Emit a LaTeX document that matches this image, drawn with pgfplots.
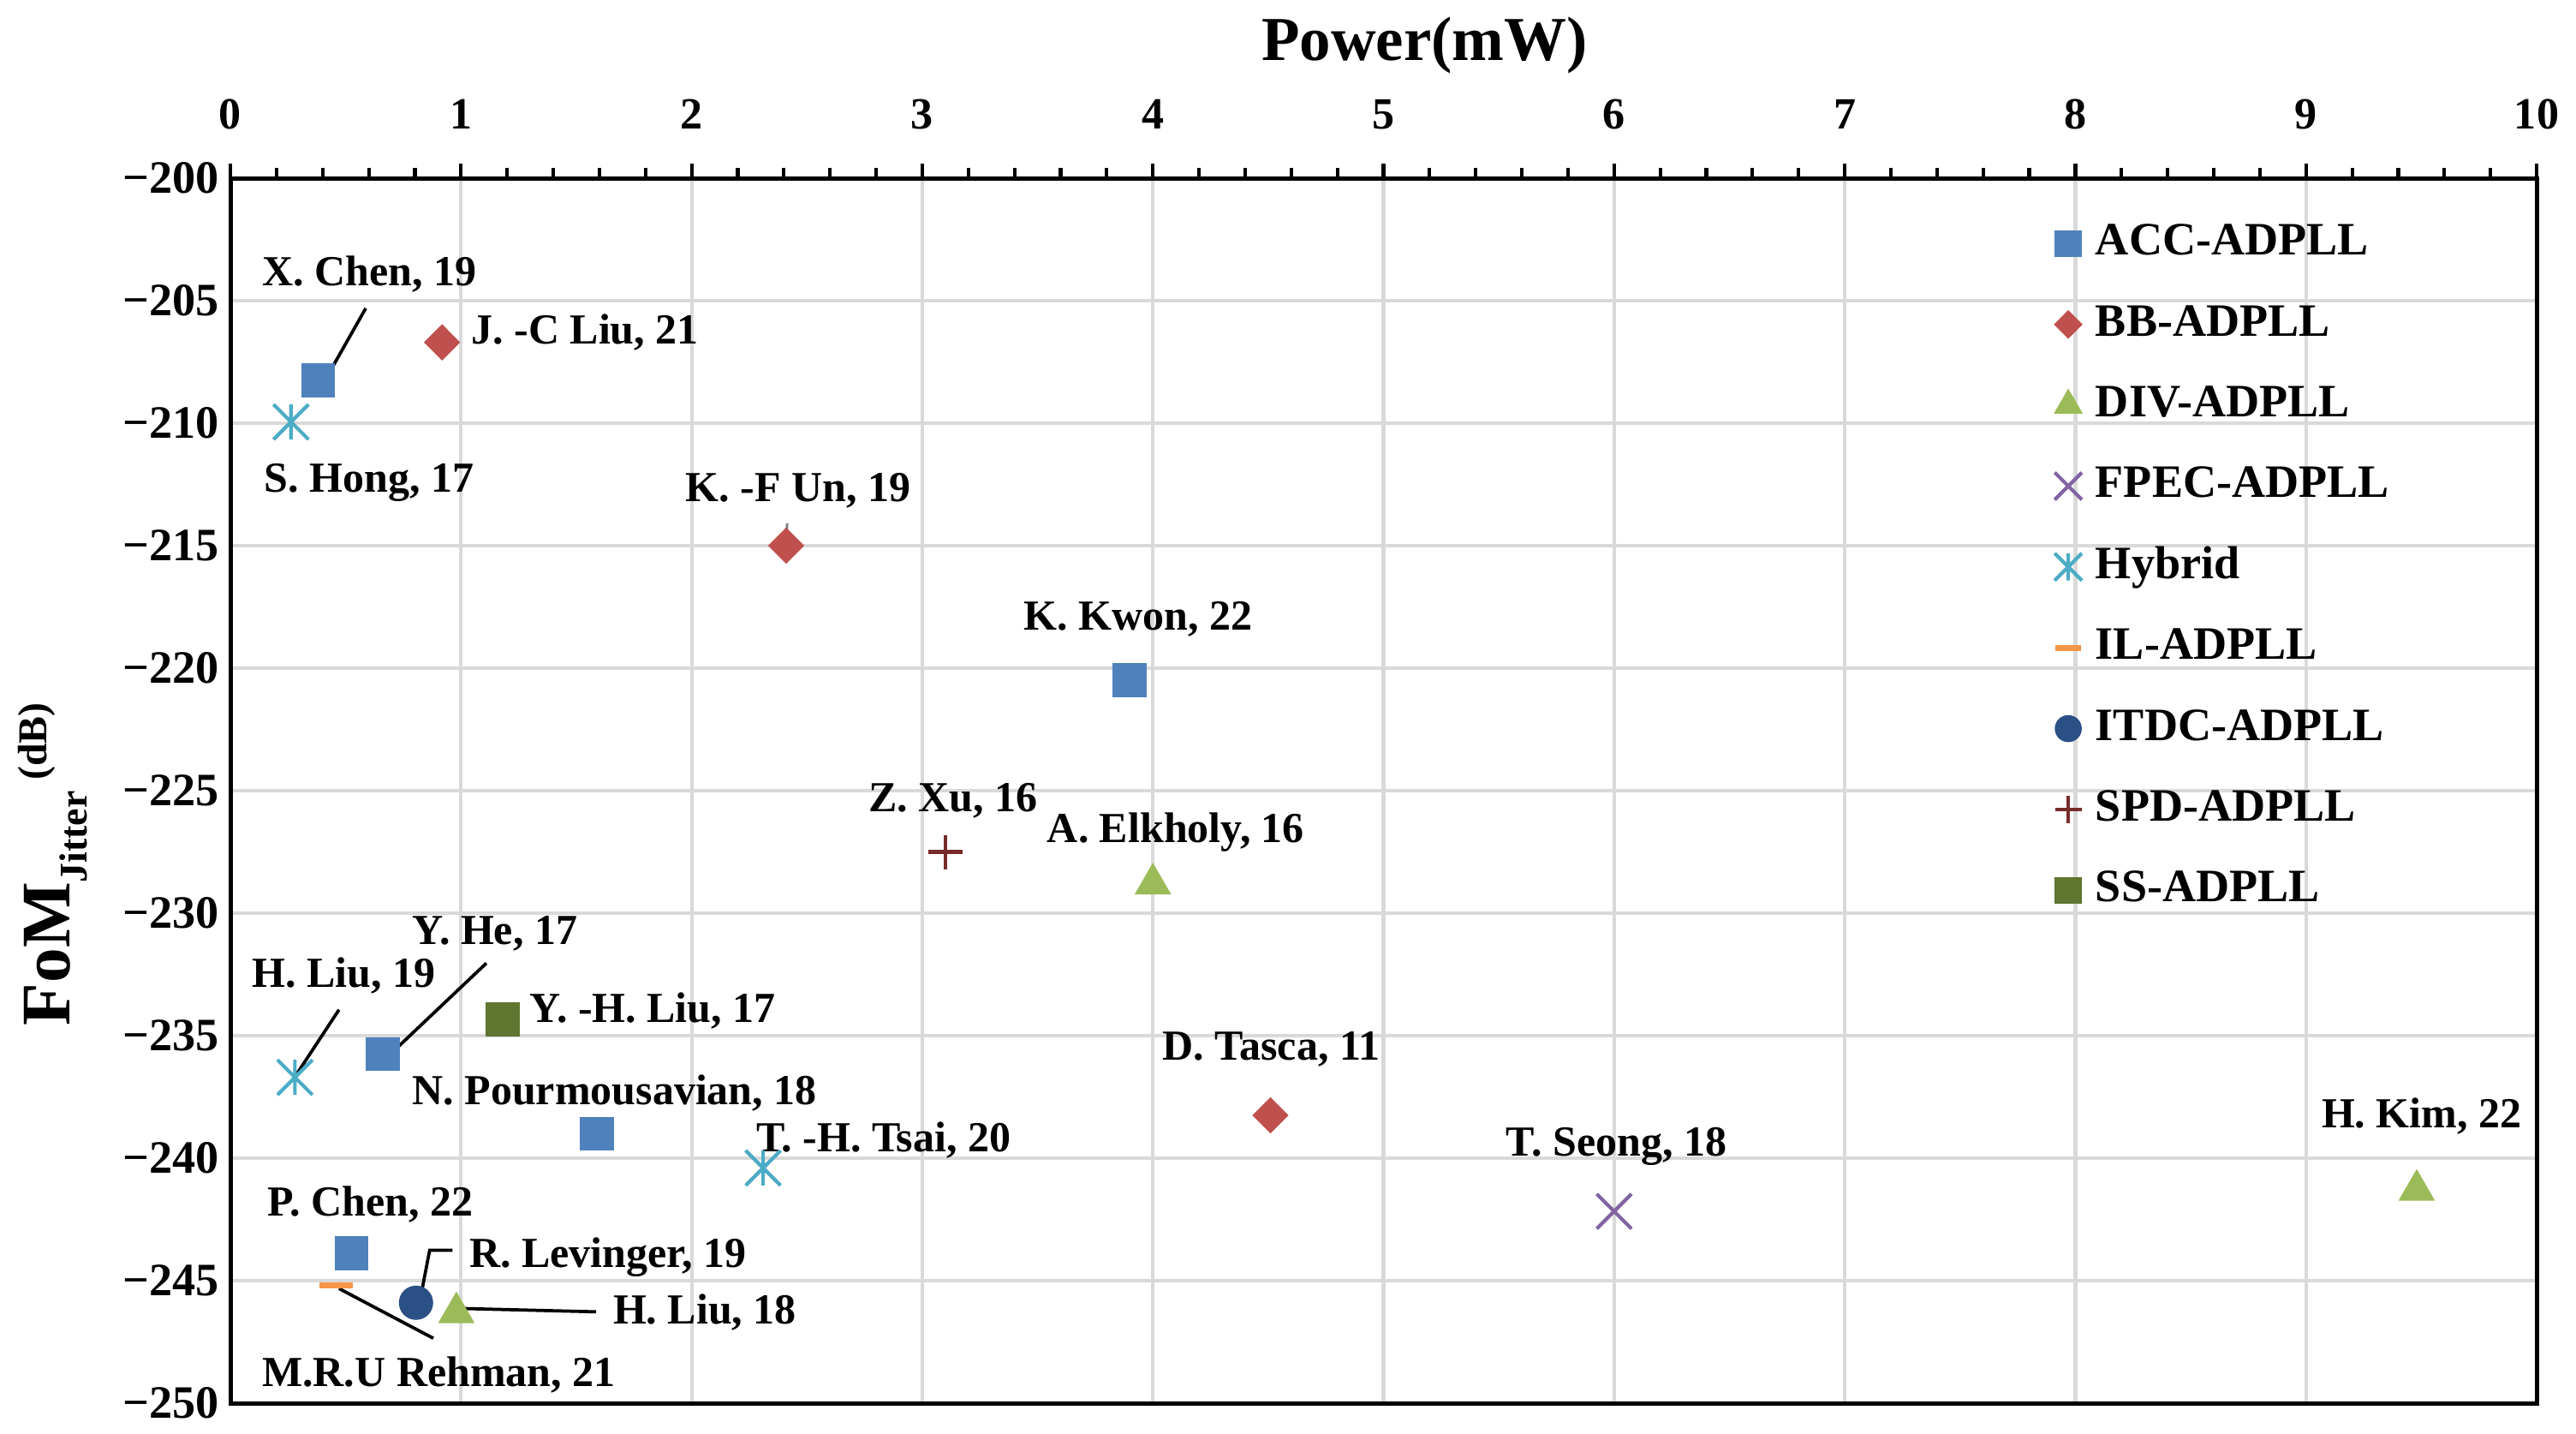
\documentclass[border=0pt]{standalone}
\usepackage{pgfplots}
\pgfplotsset{compat=1.18}
\usepackage{fontspec}
\setmainfont{Liberation Serif}
\definecolor{accblue}{HTML}{4F81BD}
\definecolor{bbred}{HTML}{C0504D}
\definecolor{divgreen}{HTML}{9BBB59}
\definecolor{fpecpurple}{HTML}{8064A2}
\definecolor{hybcyan}{HTML}{4BACC6}
\definecolor{ilorange}{HTML}{F79646}
\definecolor{itdcblue}{HTML}{2B5086}
\definecolor{spdred}{HTML}{772C2A}
\definecolor{ssgreen}{HTML}{5F7530}
\definecolor{gridgray}{HTML}{D9D9D9}
\newcommand{\lab}{\fontsize{12}{14}\selectfont\bfseries}
\pgfdeclareplotmark{xast}{%
  \pgfpathmoveto{\pgfqpoint{0pt}{\pgfplotmarksize}}%
  \pgfpathlineto{\pgfqpoint{0pt}{-\pgfplotmarksize}}%
  \pgfpathmoveto{\pgfqpoint{-\pgfplotmarksize}{-\pgfplotmarksize}}%
  \pgfpathlineto{\pgfqpoint{\pgfplotmarksize}{\pgfplotmarksize}}%
  \pgfpathmoveto{\pgfqpoint{-\pgfplotmarksize}{\pgfplotmarksize}}%
  \pgfpathlineto{\pgfqpoint{\pgfplotmarksize}{-\pgfplotmarksize}}%
  \pgfusepathqstroke}
\begin{document}
\begin{tikzpicture}
\useasboundingbox (-64.56pt,-8.4pt) rectangle (657.34pt,393.12pt);
\begin{axis}[
  at={(0pt,0pt)}, anchor=south west,
  scale only axis, width=646.3pt, height=343.2pt,
  xmin=0, xmax=10, ymin=-250, ymax=-200,
  xtick={0,1,2,3,4,5,6,7,8,9,10},
  xticklabels={0,1,2,3,4,5,6,7,8,9,10},
  minor x tick num=4,
  ytick={-250,-245,-240,-235,-230,-225,-220,-215,-210,-205,-200},
  yticklabels={−250,−245,−240,−235,−230,−225,−220,−215,−210,−205,−200},
  xtick pos=right, xticklabel pos=right,
  ytick pos=left,
  tick align=outside,
  major tick length=4.2pt, minor tick length=3pt,
  ytick style={draw=none},
  xtick style={black, line width=1pt},
  grid=major,
  major grid style={draw=gridgray, line width=1pt},
  axis line style={line width=1.2pt},
  xticklabel style={anchor=base, yshift=9.5pt, font=\fontsize{12.5}{14}\selectfont\bfseries},
  yticklabel style={xshift=4.5pt, font=\fontsize{13}{15}\selectfont\bfseries},
  xlabel={Power(mW)},
  every axis x label/.style={at={(axis description cs:0.5178,1.0962)}, anchor=base, font=\fontsize{17.5}{20}\selectfont\bfseries},
  ylabel={\fontsize{19.5}{22}\selectfont FoM\raisebox{-4.8pt}{\fontsize{11}{13}\selectfont Jitter}\hspace{3pt}\raisebox{6.5pt}{\fontsize{11.5}{13}\selectfont (dB)}},
  every axis y label/.style={at={(axis description cs:-0.0695,0.440)}, anchor=base, rotate=90, font=\bfseries},
  legend style={draw=none, fill=none, at={(axis description cs:0.7907,0.964)}, anchor=north west,
    inner sep=0pt, row sep=11.15pt, column sep=3.8pt,
    font=\fontsize{13}{15}\selectfont\bfseries,
    nodes={inner sep=0pt, text height=9pt, text depth=2.5pt}},
  legend cell align=left,
  legend image code/.code={\draw[#1, /tikz/every mark/.append style={scale=0.78}] plot coordinates {(0pt,0pt)};},
]
\addplot[only marks, mark=square*, color=accblue, mark size=4.56pt] coordinates {(0.38,-208.24) (3.90,-220.5) (0.66,-235.75) (1.59,-239.0) (0.525,-243.87)};
\addlegendentry{ACC-ADPLL}
\addplot[only marks, mark=diamond*, color=bbred, mark size=4.8pt, mark options={xscale=1.33}] coordinates {(0.918,-206.7) (2.41,-215.0) (4.51,-238.25)};
\addlegendentry{BB-ADPLL}
\addplot[only marks, mark=triangle*, color=divgreen, mark size=5.5pt] coordinates {(4.0,-228.8) (9.48,-241.3) (0.98,-246.3)};
\addlegendentry{DIV-ADPLL}
\addplot[only marks, mark=x, color=fpecpurple, mark size=6.9pt, line width=1pt] coordinates {(6.00,-242.17)};
\addlegendentry{FPEC-ADPLL}
\addplot[only marks, mark=xast, color=hybcyan, mark size=4.9pt, line width=1pt] coordinates {(0.263,-209.95) (0.28,-236.7) (2.31,-240.4)};
\addlegendentry{Hybrid}
\addplot[only marks, mark=-, color=ilorange, mark size=4.7pt, line width=1.7pt] coordinates {(0.46,-245.2)};
\addlegendentry{IL-ADPLL}
\addplot[only marks, mark=*, color=itdcblue, mark size=4.6pt] coordinates {(0.805,-245.9)};
\addlegendentry{ITDC-ADPLL}
\addplot[only marks, mark=+, color=spdred, mark size=4.8pt, line width=1pt] coordinates {(3.10,-227.5)};
\addlegendentry{SPD-ADPLL}
\addplot[only marks, mark=square*, color=ssgreen, mark size=4.56pt] coordinates {(1.18,-234.34)};
\addlegendentry{SS-ADPLL}

% leader lines
\draw[black, line width=0.9pt] (axis cs:0.587,-205.31) -- (axis cs:0.394,-208.52);
\draw[gray, line width=0.7pt] (axis cs:2.414,-214.09) -- (axis cs:2.41,-215.0);
\draw[black, line width=0.9pt] (axis cs:0.471,-233.94) -- (axis cs:0.284,-236.62);
\draw[black, line width=0.9pt] (axis cs:1.110,-232.04) -- (axis cs:0.675,-235.92);
\draw[black, line width=0.9pt] (axis cs:0.963,-243.76) -- (axis cs:0.864,-243.76) -- (axis cs:0.817,-246.06);
\draw[black, line width=0.9pt] (axis cs:1.586,-246.27) -- (axis cs:0.987,-246.13);
\draw[black, line width=0.9pt] (axis cs:0.880,-247.35) -- (axis cs:0.471,-245.32);

% data labels
\node[anchor=base west, inner sep=0pt, font=\lab] at (axis cs:0.137,-204.37) {X. Chen, 19};
\node[anchor=base west, inner sep=0pt, font=\lab] at (axis cs:1.042,-206.78) {J. -C Liu, 21};
\node[anchor=base west, inner sep=0pt, font=\lab] at (axis cs:0.145,-212.8) {S. Hong, 17};
\node[anchor=base west, inner sep=0pt, font=\lab] at (axis cs:1.971,-213.2) {K. -F Un, 19};
\node[anchor=base west, inner sep=0pt, font=\lab] at (axis cs:3.437,-218.44) {K. Kwon, 22};
\node[anchor=base west, inner sep=0pt, font=\lab] at (axis cs:2.764,-225.87) {Z. Xu, 16};
\node[anchor=base west, inner sep=0pt, font=\lab] at (axis cs:3.539,-227.13) {A. Elkholy, 16};
\node[anchor=base west, inner sep=0pt, font=\lab] at (axis cs:4.039,-236.0) {D. Tasca, 11};
\node[anchor=base west, inner sep=0pt, font=\lab] at (axis cs:5.529,-239.9) {T. Seong, 18};
\node[anchor=base west, inner sep=0pt, font=\lab] at (axis cs:9.065,-238.74) {H. Kim, 22};
\node[anchor=base west, inner sep=0pt, font=\lab] at (axis cs:0.786,-231.27) {Y. He, 17};
\node[anchor=base west, inner sep=0pt, font=\lab] at (axis cs:0.092,-233.03) {H. Liu, 19};
\node[anchor=base west, inner sep=0pt, font=\lab] at (axis cs:1.295,-234.44) {Y. -H. Liu, 17};
\node[anchor=base west, inner sep=0pt, font=\lab] at (axis cs:0.786,-237.82) {N. Pourmousavian, 18};
\node[anchor=base west, inner sep=0pt, font=\lab] at (axis cs:2.277,-239.72) {T. -H. Tsai, 20};
\node[anchor=base west, inner sep=0pt, font=\lab] at (axis cs:0.159,-242.37) {P. Chen, 22};
\node[anchor=base west, inner sep=0pt, font=\lab] at (axis cs:1.034,-244.44) {R. Levinger, 19};
\node[anchor=base west, inner sep=0pt, font=\lab] at (axis cs:1.657,-246.76) {H. Liu, 18};
\node[anchor=base west, inner sep=0pt, font=\lab] at (axis cs:0.135,-249.30) {M.R.U Rehman, 21};
\end{axis}
\end{tikzpicture}
\end{document}
